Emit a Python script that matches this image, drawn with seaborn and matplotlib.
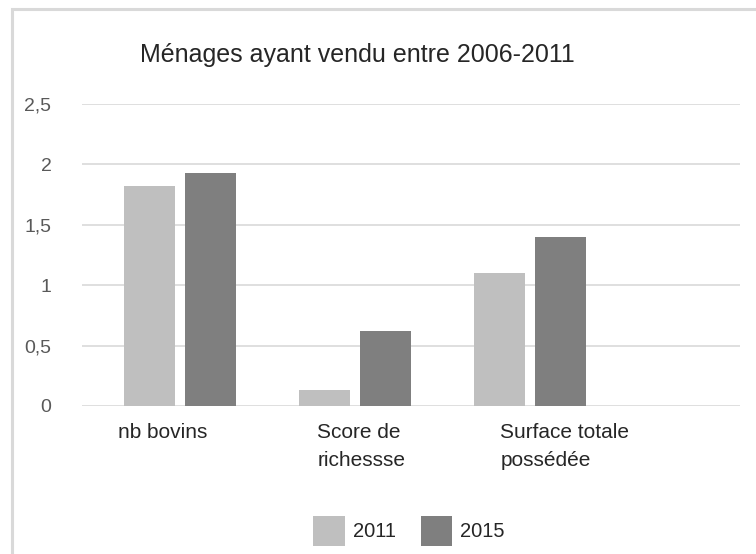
import matplotlib
matplotlib.use("Agg")
import matplotlib.pyplot as plt
import matplotlib.transforms as mtrans
from matplotlib.patches import Rectangle, Patch
import seaborn as sns
import pandas as pd

# ---- data ----
categories = ["nb bovins", "Score de\nrichessse", "Surface totale\npossédée"]
years = ["2011", "2015"]
values_2011 = [1.82, 0.13, 1.10]
values_2015 = [1.93, 0.62, 1.40]
y_ticks = [0, 0.5, 1, 1.5, 2, 2.5]
y_tick_labels = ["0", "0,5", "1", "1,5", "2", "2,5"]
title = "Ménages ayant vendu entre 2006-2011"
colors = ["#BFBFBF", "#7F7F7F"]

df = pd.DataFrame({
    "cat": categories * 2,
    "annee": [years[0]] * 3 + [years[1]] * 3,
    "val": values_2011 + values_2015,
})

sns.set_theme(style="white")
plt.rcParams["font.family"] = ["Liberation Sans", "DejaVu Sans"]

W, H = 756, 554
fig = plt.figure(figsize=(W / 100, H / 100), dpi=100)
fig.patch.set_facecolor("white")

ax = fig.add_axes([82 / W, 1 - 406 / H, (740 - 82) / W, (406 - 104) / H])
sns.barplot(data=df, x="cat", y="val", hue="annee", palette=colors,
            width=0.70, gap=0.16, saturation=1, ax=ax, legend=False,
            edgecolor="none", linewidth=0)

ax.set_xlim(-0.56, 3.20)
ax.set_ylim(0, 2.5)
ax.set_yticks(y_ticks)
ax.set_yticklabels(y_tick_labels, fontsize=14, color="#595959")
ax.tick_params(axis="y", length=0, pad=22)
ax.set_xticks([])
ax.set_xlabel("")
ax.set_ylabel("")
for s in ax.spines.values():
    s.set_visible(False)
ax.grid(axis="y", color="#D9D9D9", linewidth=1.2)
ax.set_axisbelow(True)

# category labels, left-aligned as in the reference
offsets = [-0.353, -0.216, -0.169]
trans = mtrans.blended_transform_factory(ax.transData, ax.transAxes)
for i, (lab, off) in enumerate(zip(categories, offsets)):
    ax.text(i + off, -0.055, lab, transform=trans, ha="left", va="top",
            fontsize=15, color="#262626", linespacing=1.6)

fig.text(357.5 / W, 1 - 62 / H, title, ha="center", va="baseline",
         fontsize=18, color="#262626")

handles = [Patch(facecolor=c, edgecolor="none") for c in colors]
fig.legend(handles, years, loc="center", bbox_to_anchor=(409 / W, 1 - 531 / H),
           ncol=2, frameon=False, fontsize=14.5, handlelength=1.55,
           handleheight=1.9, handletextpad=0.4, columnspacing=1.25,
           borderpad=0, labelcolor="#262626")

fig.add_artist(Rectangle((11.5 / W, -0.2), 2.0, 1.2 - 8.5 / H,
                         transform=fig.transFigure, fill=False,
                         edgecolor="#D9D9D9", linewidth=2.2, clip_on=False))

fig.savefig("out.png", dpi=100)
